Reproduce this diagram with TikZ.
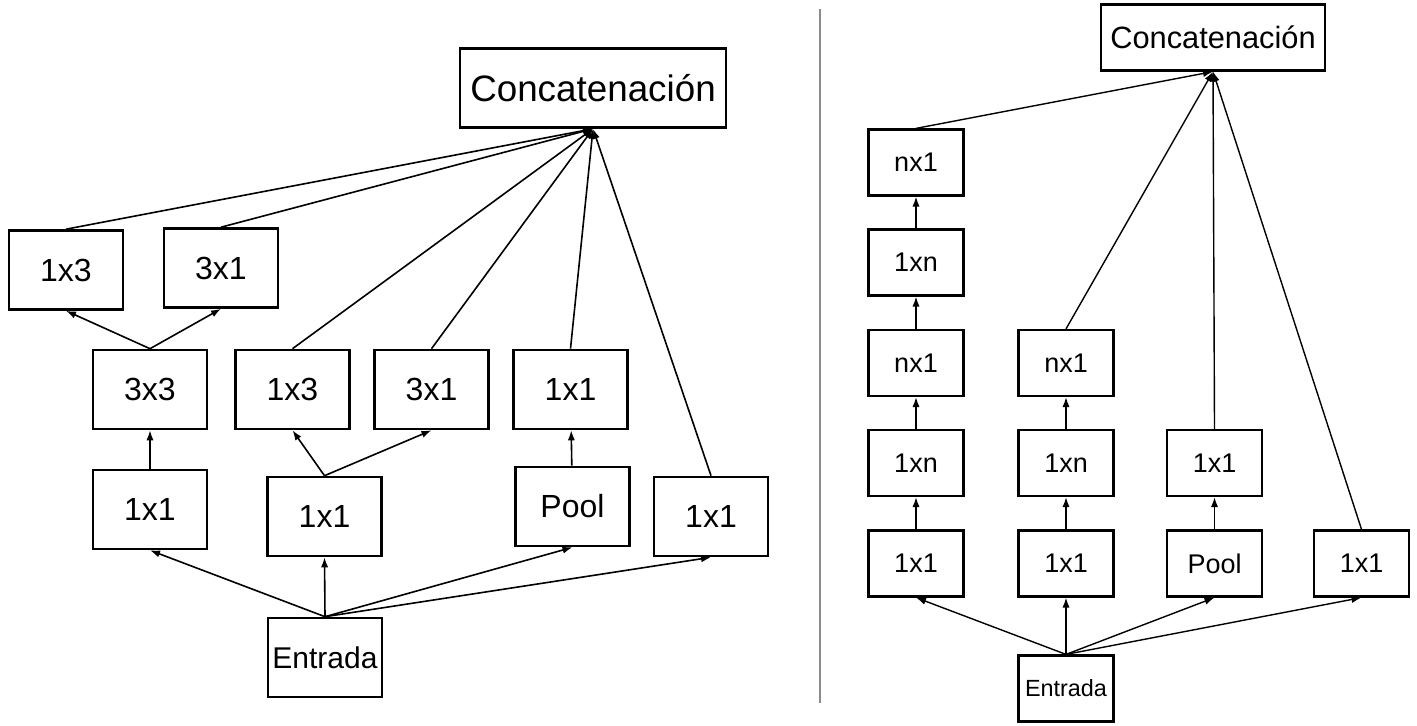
\documentclass[tikz,border=0pt]{standalone}
\usepackage{fontspec}
\setmainfont{Liberation Sans}
\usetikzlibrary{arrows.meta}
\definecolor{rule}{HTML}{8C8C8C}
\newcommand{\fsz}[1]{\fontsize{#1}{#1}\selectfont}

\begin{document}
\begin{tikzpicture}[x=0.5pt,y=-0.5pt,>={Latex[length=5pt,width=3.6pt]},
  blk/.style={draw,line width=1.3pt,inner sep=0pt,minimum width=57pt,
    minimum height=39.5pt,font=\fsz{16pt}},
  sblk/.style={draw,line width=1.1pt,inner sep=0pt,minimum width=47.5pt,
    minimum height=33pt,font=\fsz{13.5pt}},
  link/.style={->,line width=0.8pt},
  slink/.style={->,line width=0.7pt}]
  \useasboundingbox (0,0) rectangle (1417,726);

  \node[blk,minimum width=133pt,font=\fsz{18.4pt}] (catL) at (593,88) {Concatenación};
  \node[blk] (l13) at (66,270) {1x3};
  \node[blk] (l31) at (221,268) {3x1};
  \node[blk] (l33) at (150,389.5) {3x3};
  \node[blk] (m13) at (292.5,389.5) {1x3};
  \node[blk] (m31) at (431.5,389.5) {3x1};
  \node[blk] (p11) at (570.5,389.5) {1x1};
  \node[blk] (a11) at (150,509.5) {1x1};
  \node[blk] (b11) at (324.5,516.5) {1x1};
  \node[blk] (pool) at (572.5,506.5) {Pool};
  \node[blk] (d11) at (711,516.5) {1x1};
  \node[blk,font=\fsz{15pt}] (inL) at (325,657.5) {Entrada};

  \draw[link] (l33.north) -- (l13.south);
  \draw[link] (l33.north) -- (l31.south);
  \draw[link] (a11) -- (l33);
  \draw[link] (b11.north) -- (m13.south);
  \draw[link] (b11.north) -- (m31.south);
  \draw[link] (pool) -- (p11);
  \foreach \n in {a11,b11,pool,d11}
    \draw[link] (inL.north) -- (\n.south);
  \foreach \n in {l13,l31,m13,m31,p11,d11}
    \draw[link] (\n.north) -- (catL.south);

  \draw[rule,line width=1pt] (820,9) -- (820,703);

  \node[sblk,minimum width=112pt,font=\fsz{15.4pt}] (catR) at (1213,37.5) {Concatenación};
  \foreach \lab/\yy [count=\i] in {1x1/563.5,1xn/463,nx1/363,1xn/262.5,nx1/162.5}
    \node[sblk] (a\i) at (916,\yy) {\lab};
  \foreach \lab/\yy [count=\i] in {1x1/563.5,1xn/463,nx1/363}
    \node[sblk] (b\i) at (1066,\yy) {\lab};
  \node[sblk] (c1) at (1214.5,563.5) {Pool};
  \node[sblk] (c2) at (1214.5,463) {1x1};
  \node[sblk] (d1) at (1361.5,563.5) {1x1};
  \node[sblk,font=\fsz{11.7pt}] (inR) at (1066,688.5) {Entrada};

  \foreach \i in {1,...,4}{
    \pgfmathtruncatemacro{\j}{\i+1}
    \draw[slink] (a\i) -- (a\j);
  }
  \draw[slink] (b1) -- (b2);
  \draw[slink] (b2) -- (b3);
  \draw[slink] (c1) -- (c2);
  \foreach \n in {a1,b1,c1,d1}
    \draw[slink] (inR.north) -- (\n.south);
  \foreach \n in {a5,b3,c2,d1}
    \draw[slink] (\n.north) -- (catR.south);
\end{tikzpicture}
\end{document}
